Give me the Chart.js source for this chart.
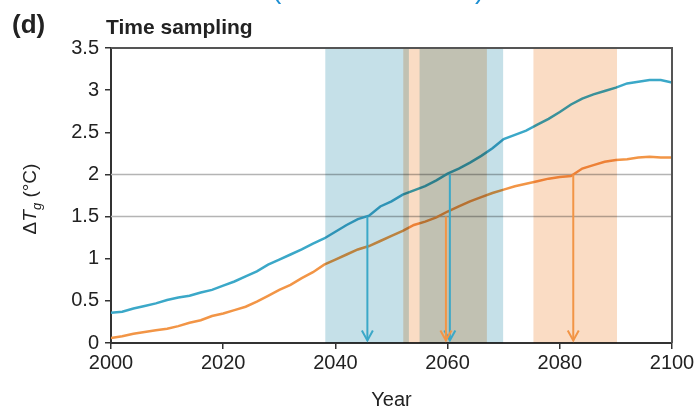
<!DOCTYPE html>
<html>
<head>
<meta charset="utf-8">
<script src="https://cdn.jsdelivr.net/npm/chart.js@4.4.1/dist/chart.umd.min.js"></script>
<style>
  body { margin: 0; background: #fff; }
  #wrap { width: 700px; height: 408px; }
</style>
</head>
<body>
<div id="wrap"><canvas id="timeChart" width="700" height="408"></canvas></div>
<script>
// values, every 2 years
const years = [2000, 2002, 2004, 2006, 2008, 2010, 2012, 2014, 2016, 2018,
  2020, 2022, 2024, 2026, 2028, 2030, 2032, 2034, 2036, 2038,
  2040, 2042, 2044, 2046, 2048, 2050, 2052, 2054, 2056, 2058,
  2060, 2062, 2064, 2066, 2068, 2070, 2072, 2074, 2076, 2078,
  2080, 2082, 2084, 2086, 2088, 2090, 2092, 2094, 2096, 2098, 2100];

const blueTemps = [0.36, 0.37, 0.41, 0.44, 0.47, 0.51, 0.54, 0.56, 0.60, 0.63,
  0.68, 0.73, 0.79, 0.85, 0.93, 0.99, 1.05, 1.11, 1.18, 1.24,
  1.32, 1.40, 1.47, 1.51, 1.62, 1.68, 1.76, 1.81, 1.86, 1.93,
  2.01, 2.07, 2.14, 2.22, 2.31, 2.42, 2.47, 2.52, 2.59, 2.66,
  2.74, 2.83, 2.90, 2.95, 2.99, 3.03, 3.08, 3.10, 3.12, 3.12, 3.09];

const orangeTemps = [0.06, 0.08, 0.11, 0.13, 0.15, 0.17, 0.20, 0.24, 0.27, 0.32,
  0.35, 0.39, 0.43, 0.49, 0.56, 0.63, 0.69, 0.77, 0.84, 0.93,
  0.99, 1.05, 1.11, 1.15, 1.21, 1.27, 1.33, 1.40, 1.44, 1.49,
  1.56, 1.62, 1.68, 1.73, 1.78, 1.82, 1.86, 1.89, 1.92, 1.95,
  1.97, 1.98, 2.07, 2.11, 2.15, 2.17, 2.18, 2.20, 2.21, 2.20, 2.20];

// sampling windows
const bandStart = [2038.2, 2052.1, 2055.0, 2075.3];
const bandEnd   = [2053.1, 2067.0, 2069.9, 2090.2];
const bandSeries = ['blue', 'orange', 'blue', 'orange'];

// crossing arrows
const arrowYears = [2045.7, 2060.4, 2059.7, 2082.4];
const arrowFrom  = [1.5, 2.0, 1.5, 2.0];
const arrowSeries = ['blue', 'blue', 'orange', 'orange'];

const thresholds = [1.5, 2.0];

const xTicks = [2000, 2020, 2040, 2060, 2080, 2100];
const yTicks = [0, 0.5, 1, 1.5, 2, 2.5, 3, 3.5];

const lineColor = { blue: '#3ba8c8', orange: '#f29546' };
const bandColor = { blue: '#c5e0e8', orange: '#fadcc4' };

const font = "'Liberation Sans', Arial, sans-serif";

const toPoints = (vals) => vals.map((v, i) => ({ x: years[i], y: v }));

const extras = {
  id: 'extras',
  beforeDatasetsDraw(chart) {
    const { ctx, chartArea, scales } = chart;
    ctx.save();
    ctx.strokeStyle = '#b4b4b4';
    ctx.lineWidth = 1.5;
    thresholds.forEach(t => {
      const y = scales.y.getPixelForValue(t);
      ctx.beginPath();
      ctx.moveTo(chartArea.left, y);
      ctx.lineTo(chartArea.right, y);
      ctx.stroke();
    });
    ctx.restore();
  },
  afterDatasetsDraw(chart) {
    const { ctx, chartArea, scales } = chart;
    ctx.save();
    // shaded windows, multiplied so overlaps go grey
    ctx.globalCompositeOperation = 'multiply';
    bandStart.forEach((s, i) => {
      const x0 = scales.x.getPixelForValue(s);
      const x1 = scales.x.getPixelForValue(bandEnd[i]);
      ctx.fillStyle = bandColor[bandSeries[i]];
      ctx.fillRect(x0, chartArea.top, x1 - x0, chartArea.bottom - chartArea.top);
    });
    ctx.globalCompositeOperation = 'source-over';

    // arrows
    arrowYears.forEach((yr, i) => {
      const x = scales.x.getPixelForValue(yr);
      const y0 = scales.y.getPixelForValue(arrowFrom[i]);
      const y1 = scales.y.getPixelForValue(0.03);
      ctx.strokeStyle = lineColor[arrowSeries[i]];
      ctx.lineWidth = 2;
      ctx.beginPath();
      ctx.moveTo(x, y0);
      ctx.lineTo(x, y1);
      ctx.stroke();
      ctx.beginPath();
      ctx.moveTo(x - 5.5, y1 - 10);
      ctx.lineTo(x, y1);
      ctx.lineTo(x + 5.5, y1 - 10);
      ctx.stroke();
    });

    // top and right frame
    ctx.strokeStyle = '#555';
    ctx.lineWidth = 2;
    ctx.beginPath();
    ctx.moveTo(chartArea.left, chartArea.top);
    ctx.lineTo(chartArea.right, chartArea.top);
    ctx.lineTo(chartArea.right, chartArea.bottom);
    ctx.stroke();
    ctx.restore();
  },
  afterDraw(chart) {
    const { ctx, chartArea } = chart;
    ctx.save();
    ctx.fillStyle = '#222';
    ctx.textBaseline = 'alphabetic';
    ctx.font = 'bold 26px ' + font;
    ctx.fillText('(d)', 12, 33);
    ctx.font = 'bold 21px ' + font;
    ctx.fillText('Time sampling', 106, 34);

    ctx.font = '20px ' + font;
    ctx.textAlign = 'center';
    ctx.fillText('Year', (chartArea.left + chartArea.right) / 2, 406);

    // y label: ΔT_g (°C)
    ctx.translate(36, 199);
    ctx.rotate(-Math.PI / 2);
    ctx.textAlign = 'left';
    const parts = [
      { t: '\u0394', f: '19px ' + font, dy: 0 },
      { t: 'T', f: 'italic 19px ' + font, dy: 0 },
      { t: 'g', f: 'italic 13px ' + font, dy: 5 },
      { t: ' (\u00b0C)', f: '19px ' + font, dy: 0 },
    ];
    let w = 0;
    parts.forEach(p => { ctx.font = p.f; w += ctx.measureText(p.t).width; });
    let x = -w / 2;
    parts.forEach(p => {
      ctx.font = p.f;
      ctx.fillText(p.t, x, p.dy);
      x += ctx.measureText(p.t).width;
    });
    ctx.restore();

    // cut-off brackets from the panel above
    ctx.save();
    ctx.fillStyle = '#1e8fd2';
    ctx.font = '28px ' + font;
    ctx.fillText('(', 272, -2);
    ctx.fillText(')', 475, -2);
    ctx.restore();
  }
};

new Chart(document.getElementById('timeChart'), {
  type: 'line',
  data: {
    datasets: [
      { data: toPoints(blueTemps), borderColor: lineColor.blue, borderWidth: 2.5, pointRadius: 0, tension: 0 },
      { data: toPoints(orangeTemps), borderColor: lineColor.orange, borderWidth: 2.5, pointRadius: 0, tension: 0 },
    ],
  },
  options: {
    responsive: false,
    animation: false,
    devicePixelRatio: 1,
    layout: { padding: { top: 48, right: 28, left: 0, bottom: 0 } },
    plugins: { legend: { display: false }, tooltip: { enabled: false } },
    scales: {
      x: {
        type: 'linear',
        min: 2000,
        max: 2100,
        afterBuildTicks: s => { s.ticks = xTicks.map(v => ({ value: v })); },
        afterFit: s => { s.height = 65; },
        grid: { drawOnChartArea: false, drawTicks: true, tickLength: 6, color: '#333', lineWidth: 1.5 },
        border: { display: true, color: '#333', width: 2 },
        ticks: { color: '#222', font: { family: font, size: 20 }, padding: 2, maxRotation: 0,
          callback: v => String(v) },
      },
      y: {
        min: 0,
        max: 3.5,
        afterBuildTicks: s => { s.ticks = yTicks.map(v => ({ value: v })); },
        afterFit: s => { s.width = 111; },
        grid: { drawOnChartArea: false, drawTicks: true, tickLength: 6, color: '#333', lineWidth: 1.5 },
        border: { display: true, color: '#333', width: 2 },
        ticks: { color: '#222', font: { family: font, size: 20 }, padding: 6,
          callback: v => String(v) },
      },
    },
  },
  plugins: [extras],
});
</script>
</body>
</html>
